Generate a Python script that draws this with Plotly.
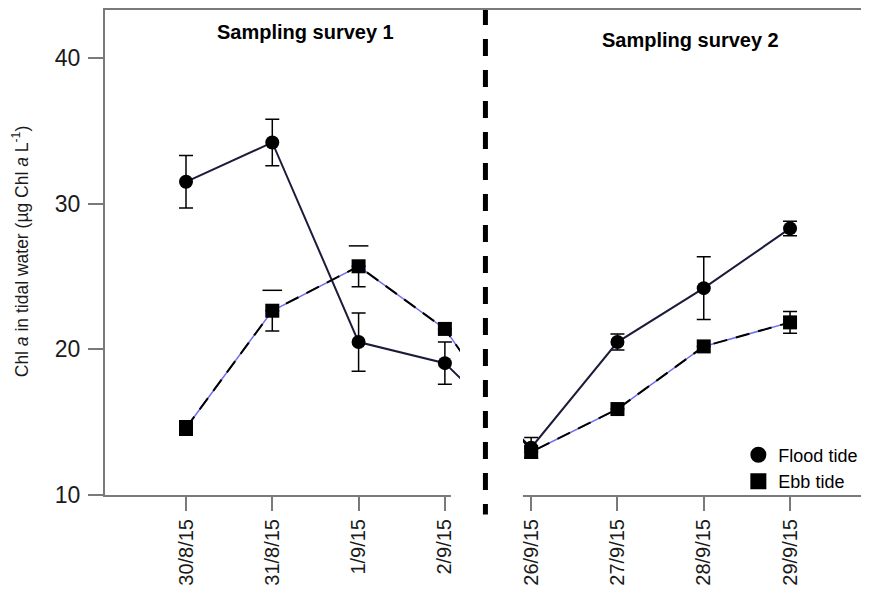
import plotly.graph_objects as go

# ---- data ----
dates = ["30/8/15", "31/8/15", "1/9/15", "2/9/15", "26/9/15", "27/9/15", "28/9/15", "29/9/15"]
x_pos = [1, 2, 3, 4, 5, 6, 7, 8]
flood = [31.5, 34.2, 20.5, 19.05, 13.25, 20.5, 24.2, 28.3]
flood_err = [1.8, 1.6, 2.0, 1.45, 0.7, 0.55, 2.15, 0.5]
ebb = [14.6, 22.65, 25.7, 21.4, 12.95, 15.9, 20.2, 21.85]
ebb_err = [0.5, 1.4, 1.4, 0.0, 0.0, 0.0, 0.0, 0.75]
ebb_stem_up = [True, False, False, True, True, True, True, True]  # upper stems hidden in original

survey_titles = ["Sampling survey 1", "Sampling survey 2"]
legend_names = ["Flood tide", "Ebb tide"]
y_ticks = [10, 20, 30, 40]

FONT = "Liberation Sans, Arial, sans-serif"
GRAY = "#7a7a7a"
NAVY = "#1b1b3a"
BLUE = "#6d6df2"

ebb_up = [e if s else 0 for e, s in zip(ebb_err, ebb_stem_up)]
cap_x = [x for x, e, s in zip(x_pos, ebb_err, ebb_stem_up) if not s and e > 0]
cap_y = [v + e for v, e, s in zip(ebb, ebb_err, ebb_stem_up) if not s and e > 0]

fig = go.Figure()

# Flood tide
fig.add_trace(go.Scatter(
    x=x_pos, y=flood, mode="lines+markers", showlegend=False,
    line=dict(color=NAVY, width=2),
    marker=dict(symbol="circle", size=14, color="black"),
    error_y=dict(type="data", array=flood_err, symmetric=True,
                 color="black", thickness=1.5, width=7),
))
# Ebb tide: blue underlay + black dashed
fig.add_trace(go.Scatter(
    x=x_pos, y=ebb, mode="lines", showlegend=False,
    line=dict(color=BLUE, width=1.5),
))
fig.add_trace(go.Scatter(
    x=x_pos, y=ebb, mode="lines+markers", showlegend=False,
    line=dict(color="black", width=2, dash="14px,9px"),
    marker=dict(symbol="square", size=14, color="black"),
    error_y=dict(type="data", symmetric=False, array=ebb_up, arrayminus=ebb_err,
                 color="black", thickness=1.5, width=7),
))
# floating caps
fig.add_trace(go.Scatter(
    x=cap_x, y=cap_y, mode="markers", showlegend=False,
    marker=dict(symbol="line-ew", size=14, line=dict(color="black", width=1.5)),
))

# legend-only traces
fig.add_trace(go.Scatter(x=[None], y=[None], mode="markers", name=legend_names[0],
                         marker=dict(symbol="circle", size=16, color="black")))
fig.add_trace(go.Scatter(x=[None], y=[None], mode="markers", name=legend_names[1],
                         marker=dict(symbol="square", size=16, color="black")))

shapes = [
    # white cover of the gap between surveys (plot area)
    dict(type="rect", xref="x", yref="paper", x0=4.175, x1=4.905, y0=0, y1=0.995,
         fillcolor="white", line=dict(width=0), layer="above"),
    # white cover of the axis line gap
    dict(type="rect", xref="x", yref="paper", x0=4.07, x1=4.905, y0=-0.012, y1=0.012,
         fillcolor="white", line=dict(width=0), layer="above"),
    # dashed separator
    dict(type="line", xref="x", yref="paper", x0=4.47, x1=4.47, y0=1.0, y1=-0.04,
         line=dict(color="black", width=5, dash="17px,14px"), layer="above"),
    # top border
    dict(type="line", xref="paper", yref="paper", x0=-0.002, x1=1, y0=0.998, y1=0.998,
         line=dict(color=GRAY, width=2), layer="above"),
]

annotations = [
    dict(text="<b>" + survey_titles[0] + "</b>", xref="paper", yref="paper",
         x=0.263, y=0.951, xanchor="center", yanchor="middle", showarrow=False,
         font=dict(family=FONT, size=20, color="black")),
    dict(text="<b>" + survey_titles[1] + "</b>", xref="paper", yref="paper",
         x=0.767, y=0.934, xanchor="center", yanchor="middle", showarrow=False,
         font=dict(family=FONT, size=20, color="black")),
]

fig.update_layout(
    width=861, height=585,
    margin=dict(l=97, r=0, t=0, b=98),
    paper_bgcolor="white", plot_bgcolor="white",
    font=dict(family=FONT, color="#1a1a1a"),
    shapes=shapes, annotations=annotations,
    legend=dict(x=0.829, y=0.12, xanchor="left", yanchor="top",
                font=dict(family=FONT, size=18, color="black"),
                bgcolor="rgba(0,0,0,0)", tracegroupgap=0, itemwidth=30),
    xaxis=dict(range=[0.0613, 8.915], tickvals=x_pos, ticktext=dates, tickangle=-90,
               showline=True, linecolor=GRAY, linewidth=2, showgrid=False, zeroline=False,
               ticks="outside", ticklen=14, tickwidth=2, tickcolor=GRAY,
               tickfont=dict(family=FONT, size=20, color="#1a1a1a")),
    yaxis=dict(range=[10, 43.43], tickvals=y_ticks,
               showline=True, linecolor=GRAY, linewidth=2, showgrid=False, zeroline=False,
               ticks="outside", ticklen=15, tickwidth=2, tickcolor=GRAY, ticklabelstandoff=3,
               tickfont=dict(family=FONT, size=23, color="#1a1a1a"),
               title=dict(text="Chl <i>a</i> in tidal water (µg Chl <i>a</i> L<sup>-1</sup>)",
                          font=dict(family=FONT, size=17.5, color="#1a1a1a"), standoff=22)),
)

fig.write_html("out.html")
